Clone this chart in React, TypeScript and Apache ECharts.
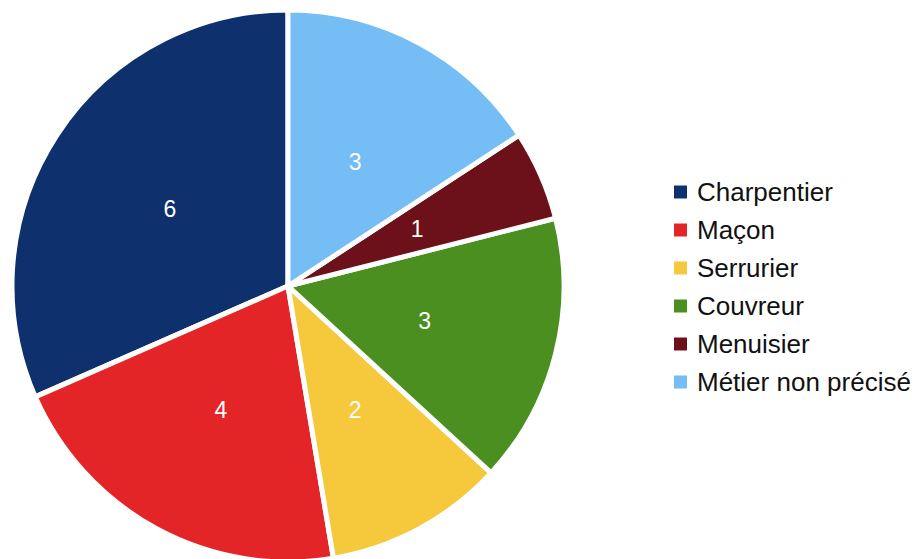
import React, { useEffect, useRef } from "react";
import * as echarts from "echarts";

const categories = ["Charpentier", "Maçon", "Serrurier", "Couvreur", "Menuisier", "Métier non précisé"];
const values = [6, 4, 2, 3, 1, 3];
const colors = ["#0e306c", "#e42528", "#f6c93c", "#4a8f20", "#6c1119", "#75bdf5"];

export default function App() {
  const ref = useRef<HTMLDivElement>(null);
  useEffect(() => {
    document.body.style.margin = "0";
    const chart = echarts.init(ref.current!, null, { renderer: "svg" });
    chart.setOption({
      animation: false,
      color: colors,
      legend: {
        orient: "vertical",
        left: 672,
        top: 179,
        padding: 0,
        itemWidth: 15,
        itemHeight: 15,
        itemGap: 12,
        icon: "rect",
        textStyle: { fontFamily: "Liberation Sans", fontSize: 26, color: "#111", lineHeight: 26, padding: [0, 0, 0, 4] },
        data: categories,
      },
      series: [
        {
          type: "pie",
          center: [288, 286],
          radius: 276,
          startAngle: 90,
          clockwise: false,
          itemStyle: { borderColor: "#fff", borderWidth: 5 },
          label: {
            show: true,
            position: "inside",
            formatter: "{c}",
            color: "#fff",
            fontFamily: "Liberation Sans",
            fontSize: 23,
          },
          labelLine: { show: false },
          data: categories.map((name, i) => ({ name, value: values[i] })),
        },
      ],
    });
    return () => chart.dispose();
  }, []);
  return <div ref={ref} style={{ width: 919, height: 559 }} />;
}
